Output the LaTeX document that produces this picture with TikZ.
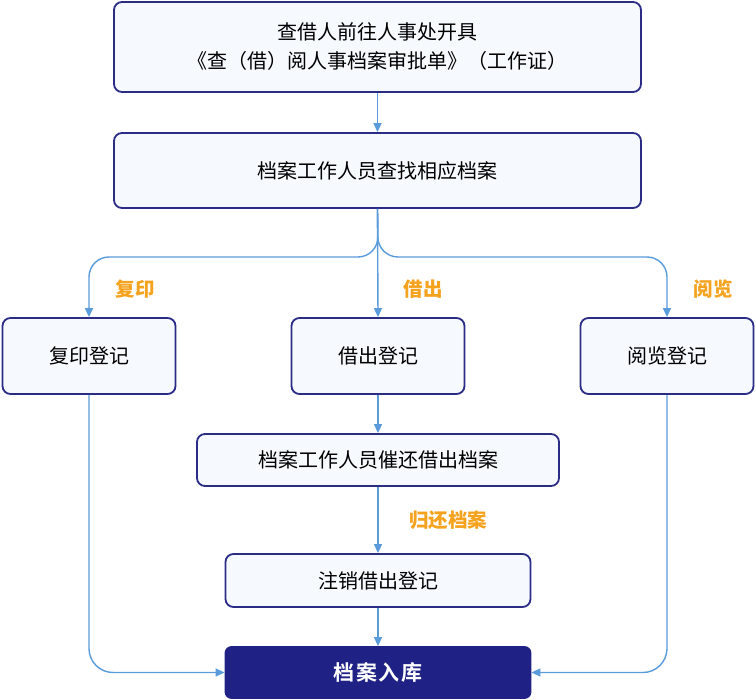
\documentclass[tikz,border=0pt]{standalone}
\usepackage{fontspec}
\setmainfont{Noto Sans CJK SC}
\newfontfamily\boldcjk[LetterSpace=9]{Noto Sans CJK SC Bold}
\usetikzlibrary{arrows.meta}
\definecolor{boxline}{HTML}{2B2C86}
\definecolor{boxfill}{HTML}{F6FAFF}
\definecolor{darkfill}{HTML}{1F2185}
\definecolor{conn}{HTML}{5A9BDB}
\definecolor{lbl}{HTML}{F5A31F}
\begin{document}
\begin{tikzpicture}[x=1pt,y=-1pt,
  box/.style={draw=boxline, fill=boxfill, line width=1.8pt, rounded corners=8pt,
    inner sep=0pt, align=center, font=\fontsize{20}{29}\selectfont, text=black},
  finalbox/.style={draw=darkfill, fill=darkfill, line width=1.8pt, rounded corners=6pt,
    inner sep=0pt, align=center, font=\boldcjk\fontsize{21}{24}\selectfont, text=white},
  link/.style={draw=conn, line width=1.4pt, -{Triangle[length=9pt,width=8pt]}},
  tag/.style={text=lbl, font=\bfseries\fontsize{19.5}{22}\selectfont, inner sep=0pt}]
\useasboundingbox (0,0) rectangle (756,700);
\node[box, minimum width=527pt, minimum height=90pt] (top) at (377.5,47)
  {查借人前往人事处开具\\《查（借）阅人事档案审批单》（工作证）};
\node[box, minimum width=527pt, minimum height=75pt] (find) at (377.5,170.5) {档案工作人员查找相应档案};
\node[box, minimum width=173pt, minimum height=76pt] (copy) at (89,356) {复印登记};
\node[box, minimum width=173pt, minimum height=76pt] (lend) at (378,356) {借出登记};
\node[box, minimum width=173pt, minimum height=76pt] (read) at (667,356) {阅览登记};
\node[box, minimum width=362pt, minimum height=52pt] (urge) at (378,460) {档案工作人员催还借出档案};
\node[box, minimum width=305pt, minimum height=53pt] (cancel) at (378,580.5) {注销借出登记};
\node[finalbox, minimum width=305pt, minimum height=51pt] (store) at (378,672.5) {档案入库};

\coordinate (fork) at (378,257);
\draw[link] (top.south) -- (find.north);
\draw[link, rounded corners=20pt] (find.south) -- (fork) -| (copy.north);
\draw[link, rounded corners=20pt] (find.south) -- (fork) -| (read.north);
\draw[link] (find.south) -- (lend.north);
\draw[link] (lend.south) -- (urge.north);
\draw[link] (urge.south) -- (cancel.north);
\draw[link] (cancel.south) -- (store.north);
\draw[link, rounded corners=24pt] (copy.south) |- (store.west);
\draw[link, rounded corners=24pt] (read.south) |- (store.east);

\node[tag] (t1) at (135,289) {复印};
\node[tag] (t2) at (423,289) {借出};
\node[tag] (t3) at (713,289) {阅览};
\node[tag] (t4) at (448,520) {归还档案};
\end{tikzpicture}
\end{document}
